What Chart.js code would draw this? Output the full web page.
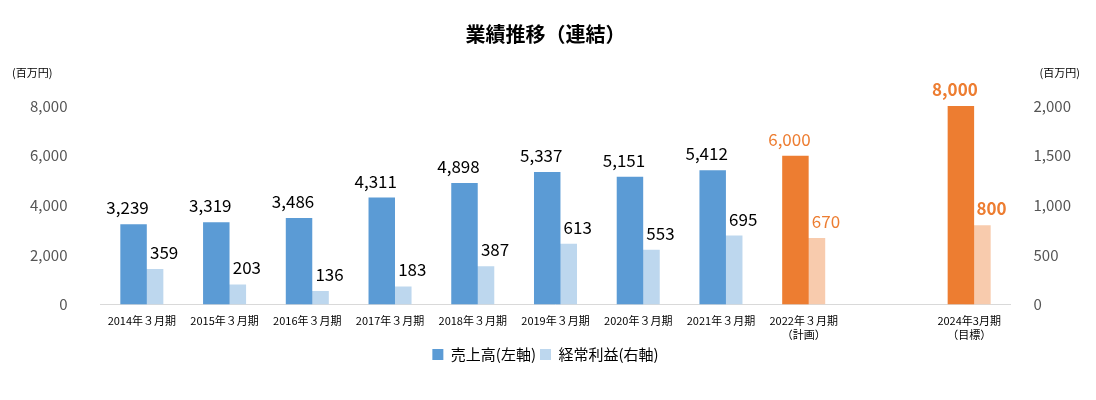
<!DOCTYPE html>
<html><head><meta charset="utf-8">
<script src="https://cdn.jsdelivr.net/npm/chart.js@4/dist/chart.umd.min.js"></script>
<style>html,body{margin:0;background:#fff}#w{width:1096px;height:400px}</style>
</head><body><div id="w"><canvas id="c"></canvas></div>
<script>
const categories=[["2014年３月期"],["2015年３月期"],["2016年３月期"],["2017年３月期"],["2018年３月期"],["2019年３月期"],["2020年３月期"],["2021年３月期"],["2022年３月期","（計画）"],[""],["2024年3月期","（目標）"]];
const sales=[3239,3319,3486,4311,4898,5337,5151,5412,6000,null,8000];
const profit=[359,203,136,183,387,613,553,695,670,null,800];
const leftTicks=[0,2000,4000,6000,8000];
const rightTicks=[0,500,1000,1500,2000];
const blue='#5B9BD5',lblue='#BDD7EE',orange='#ED7D31',lorange='#F8CBAD';
const F='"Noto Sans CJK JP","Noto Sans",sans-serif';
const sc=sales.map((v,i)=>i>=8?orange:blue);
const pc=profit.map((v,i)=>i>=8?lorange:lblue);
const labels={id:'lbl',afterDatasetsDraw(ch){const c=ch.ctx;c.save();c.textAlign='center';c.textBaseline='bottom';
 ch.data.datasets.forEach((ds,di)=>{ch.getDatasetMeta(di).data.forEach((el,i)=>{const v=ds.data[i];if(v==null)return;
  c.fillStyle=i>=8?orange:'#000';c.font=(i==10?'bold ':'')+'17px '+F;
  c.fillText(v.toLocaleString('en-US'),el.x+(di==0?-6:14),el.y-8);});});
 const a=ch.chartArea;c.font='11px '+F;c.fillStyle='#000';c.textAlign='left';c.fillText('(百万円)',12,a.top-28);
 c.textAlign='right';c.fillText('(百万円)',1080,a.top-28);c.restore();}};
new Chart(document.getElementById('c'),{type:'bar',
data:{labels:categories,datasets:[
 {label:'売上高(左軸)',data:sales,backgroundColor:sc,yAxisID:'y',barPercentage:1.6,categoryPercentage:0.4},
 {label:'経常利益(右軸)',data:profit,backgroundColor:pc,yAxisID:'y1',barPercentage:1.6,categoryPercentage:0.4}]},
options:{responsive:true,maintainAspectRatio:false,animation:false,
 layout:{padding:{left:5,right:10,top:0,bottom:28}},
 plugins:{title:{display:true,text:'業績推移（連結）',font:{family:F,size:20,weight:'bold'},color:'#000',padding:{top:22,bottom:60}},
  legend:{position:'bottom',labels:{padding:4,font:{family:F,size:15},color:'#000',boxWidth:11,boxHeight:11,
   generateLabels:()=>[{text:'売上高(左軸)',fillStyle:blue,strokeStyle:blue,lineWidth:0,datasetIndex:0},{text:'経常利益(右軸)',fillStyle:lblue,strokeStyle:lblue,lineWidth:0,datasetIndex:1}]}},
  tooltip:{enabled:false}},
 scales:{x:{grid:{display:false},border:{display:true,color:'#d9d9d9'},ticks:{font:{family:F,size:11},color:'#000',maxRotation:0,autoSkip:false,padding:2}},
  y:{min:0,max:8000,afterBuildTicks:a=>{a.ticks=leftTicks.map(v=>({value:v}))},grid:{display:false},border:{display:false},ticks:{font:{family:F,size:15},color:'#555',padding:25,callback:v=>v.toLocaleString('en-US')}},
  y1:{position:'right',min:0,max:2000,afterBuildTicks:a=>{a.ticks=rightTicks.map(v=>({value:v}))},grid:{display:false},border:{display:false},ticks:{font:{family:F,size:15},color:'#555',padding:15,callback:v=>v.toLocaleString('en-US')}}}},
plugins:[labels]});
</script></body></html>
